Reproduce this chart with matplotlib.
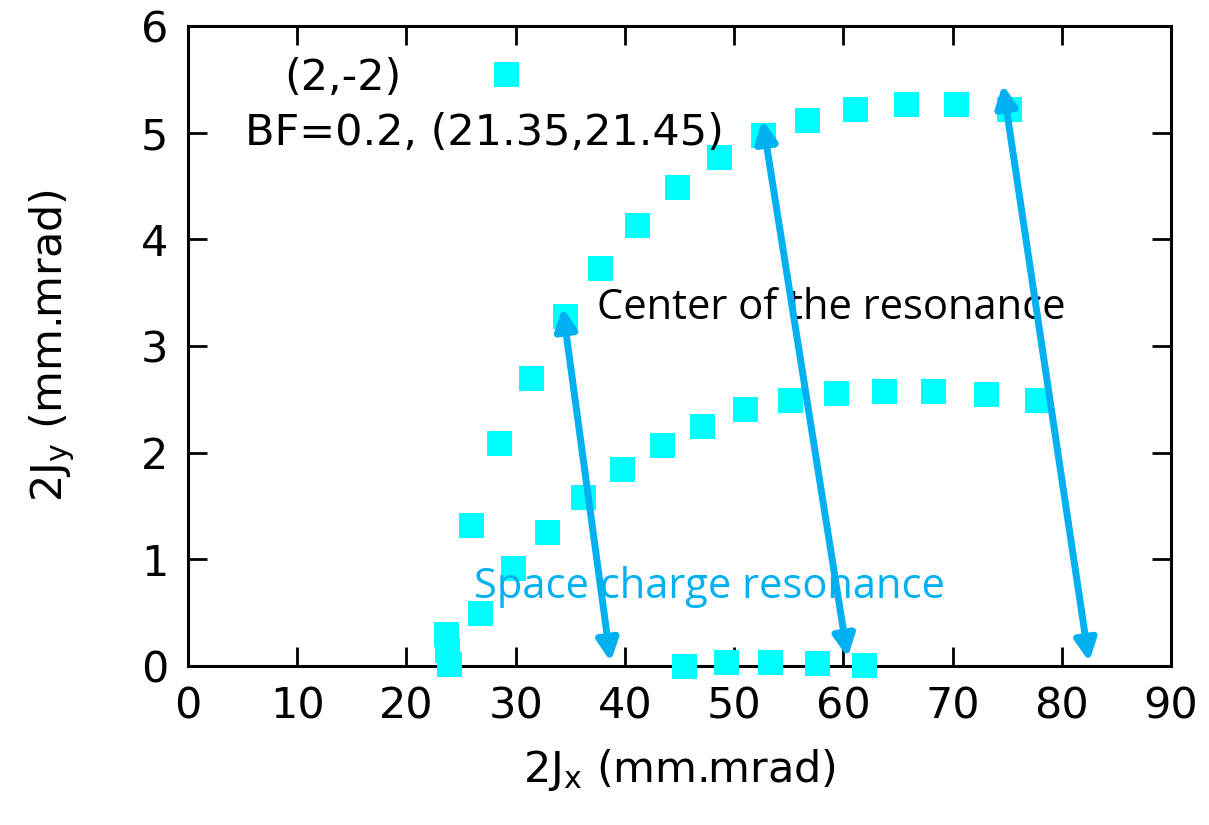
import matplotlib.pyplot as plt

plt.rcParams["font.family"] = ["DejaVu Sans"]
plt.rcParams["mathtext.default"] = "regular"

# upper branch of 2Jy vs 2Jx
upper_x = [23.6, 23.7, 23.9, 26.7, 25.9, 28.5, 31.4, 34.5, 37.7, 41.1, 44.8, 48.6,
           52.6, 56.7, 61.1, 65.7, 70.3, 75.2]
upper_y = [0.30, 0.15, 0.02, 0.50, 1.32, 2.09, 2.70, 3.28, 3.73, 4.13, 4.49, 4.77,
           4.98, 5.12, 5.22, 5.27, 5.27, 5.22]
# middle branch
mid_x = [29.8, 32.9, 36.2, 39.7, 43.4, 47.1, 51.0, 55.1, 59.3, 63.7, 68.2, 73.1, 77.7]
mid_y = [0.92, 1.26, 1.58, 1.85, 2.07, 2.25, 2.41, 2.49, 2.56, 2.58, 2.58, 2.55, 2.49]
# points near zero
low_x = [45.4, 49.3, 53.3, 57.6, 61.9]
low_y = [0.00, 0.04, 0.04, 0.03, 0.01]
# lone point
lone_x = [29.1]
lone_y = [5.55]

# arrow ends: (top, bottom)
arrows = [((34.3, 3.36), (38.7, 0.04)),
          ((52.6, 5.12), (60.4, 0.08)),
          ((74.6, 5.45), (82.5, 0.04))]

xticks = [0, 10, 20, 30, 40, 50, 60, 70, 80, 90]
yticks = [0, 1, 2, 3, 4, 5, 6]

fig = plt.figure(figsize=(12.09, 8.25), dpi=100)
ax = fig.add_axes([0.1555, 0.1927, 0.8131, 0.7758])

for xs, ys in [(upper_x, upper_y), (mid_x, mid_y), (low_x, low_y), (lone_x, lone_y)]:
    ax.plot(xs, ys, ls="none", marker="s", markersize=18, color="#00FFFF",
            markeredgewidth=0, clip_on=False, zorder=3)

ax.set_xlim(0, 90)
ax.set_ylim(0, 6)
ax.set_xticks(xticks)
ax.set_yticks(yticks)
ax.tick_params(direction="in", length=14, width=2, labelsize=31, top=True, right=True, pad=14)
for s in ax.spines.values():
    s.set_linewidth(2.2)

ax.set_xlabel("2J$_x$ (mm.mrad)", fontsize=31, labelpad=14)
ax.set_ylabel("2J$_y$ (mm.mrad)", fontsize=31, labelpad=46)

ax.text(14.2, 5.51, "(2,-2)", fontsize=31, ha="center", va="center")
ax.text(5.2, 5.0, "BF=0.2, (21.35,21.45)", fontsize=31, ha="left", va="center")

ax.text(37.4, 3.36, "Center of the resonance", fontsize=30, family=["Open Sans", "DejaVu Sans"],
        ha="left", va="center", zorder=4)
ax.text(26.2, 0.74, "Space charge resonance", fontsize=30, family=["Open Sans", "DejaVu Sans"],
        color="#00B0F0", ha="left", va="center", zorder=4)

for top, bot in arrows:
    ax.annotate("", xy=top, xytext=bot,
                arrowprops=dict(arrowstyle="<|-|>", color="#00B0F0", lw=5,
                                mutation_scale=32, shrinkA=0, shrinkB=0),
                zorder=5, annotation_clip=False)

fig.savefig("out.png", dpi=100)
